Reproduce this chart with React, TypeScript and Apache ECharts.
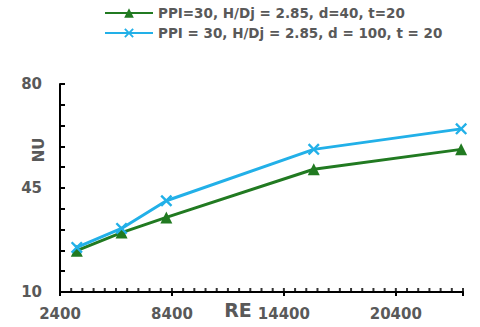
import React, { useEffect, useRef } from "react";
import * as echarts from "echarts";

const seriesNames = [
  "PPI=30, H/Dj = 2.85, d=40, t=20",
  "PPI = 30, H/Dj = 2.85, d = 100, t = 20",
];
const reValues = [3300, 5700, 8100, 16000, 23900];
const nuGreen = [23.9, 30.0, 35.1, 51.3, 58.0];
const nuBlue = [25.0, 31.4, 40.7, 58.0, 64.9];
const xTicks = [2400, 8400, 14400, 20400];
const yTicks = [10, 45, 80];
const xMinorTicks = [
  3000, 3600, 4200, 4800, 5400, 6000, 6600, 7200, 7800, 8400, 9000, 9600, 10200, 10800, 11400,
  12000, 12600, 13200, 13800, 14400, 15000, 15600, 16200, 16800, 17400, 18000, 18600, 19200,
  19800, 20400, 21000, 21600, 22200, 22800, 23400, 24000,
];

const GREEN = "#217a21";
const BLUE = "#22b0e8";
const TXT = "#595959";
const FONT = "DejaVu Sans, Verdana, sans-serif";
const XSYM =
  "path://M0,1.4 L1.4,0 L5,3.6 L8.6,0 L10,1.4 L6.4,5 L10,8.6 L8.6,10 L5,6.4 L1.4,10 L0,8.6 L3.6,5 Z";

export default function App() {
  const ref = useRef<HTMLDivElement>(null);
  useEffect(() => {
    if (!ref.current) return;
    const chart = echarts.init(ref.current, undefined, { renderer: "svg" });
    const font = { fontFamily: FONT, fontWeight: "bold" as const };
    const fmt = (v: number) => String(v);
    const tickLine = { color: "#000", width: 2 };
    chart.setOption({
      animation: false,
      backgroundColor: "#ffffff",
      legend: {
        orient: "vertical",
        left: 99,
        top: 1,
        itemWidth: 48,
        itemHeight: 12,
        itemGap: 6,
        textStyle: { ...font, fontSize: 13.5, color: TXT },
        data: seriesNames,
      },
      grid: { left: 60, right: 17, top: 84, bottom: 35 },
      xAxis: [
        {
          type: "value",
          position: "bottom",
          min: 2400,
          max: 24000,
          interval: 6000,
          axisLine: { show: true, lineStyle: { color: "#000", width: 2 } },
          axisTick: { show: true, inside: false, length: 4, lineStyle: tickLine },
          axisLabel: {
            ...font,
            fontSize: 15,
            color: TXT,
            margin: 14,
            formatter: fmt,
            customValues: xTicks,
          },
          splitLine: { show: false },
        },
      ],
      yAxis: [
        {
          type: "value",
          position: "left",
          min: 10,
          max: 80,
          interval: 7,
          axisLine: { show: true, lineStyle: { color: "#000", width: 2 } },
          axisTick: { show: true, inside: true, length: 5, lineStyle: tickLine },
          axisLabel: { ...font, fontSize: 15, color: TXT, margin: 18, formatter: fmt, customValues: yTicks },
          splitLine: { show: false },
        },
      ],
      graphic: [
        {
          type: "text",
          x: 238,
          y: 310,
          style: { text: "RE", ...font, fontSize: 19, fill: TXT, align: "center", verticalAlign: "middle" },
        },
        {
          type: "text",
          x: 38.5,
          y: 150,
          rotation: Math.PI / 2,
          style: { text: "NU", ...font, fontSize: 15, fill: TXT, align: "center", verticalAlign: "middle" },
        },
      ],
      series: [
        {
          name: "xMinorTicks",
          type: "scatter",
          silent: true,
          clip: false,
          z: 1,
          data: xMinorTicks.map((x) => [x, 10]),
          symbol: "rect",
          symbolSize: [2, 4],
          symbolOffset: [0, -2],
          itemStyle: { color: "#000" },
          tooltip: { show: false },
        },
        {
          name: seriesNames[0],
          type: "line",
          data: reValues.map((x, i) => [x, nuGreen[i]]),
          symbol: "triangle",
          symbolSize: 12,
          lineStyle: { color: GREEN, width: 3 },
          itemStyle: { color: GREEN },
          z: 3,
        },
        {
          name: seriesNames[1],
          type: "line",
          data: reValues.map((x, i) => [x, nuBlue[i]]),
          symbol: XSYM,
          symbolSize: 12,
          lineStyle: { color: BLUE, width: 3 },
          itemStyle: { color: BLUE },
          z: 3,
        },
      ],
    });
    return () => chart.dispose();
  }, []);
  return <div ref={ref} style={{ width: 480, height: 327, position: "absolute", left: 0, top: 0 }} />;
}
